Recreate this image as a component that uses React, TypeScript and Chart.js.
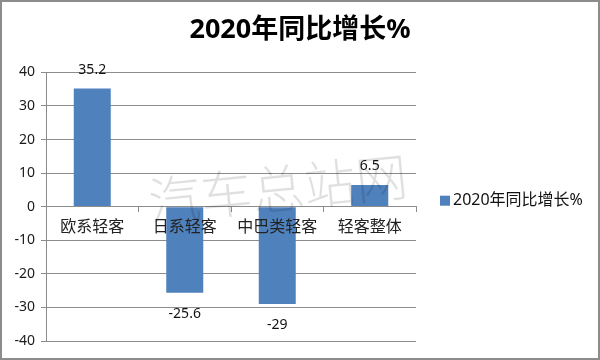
import React, { useEffect, useRef } from "react";
import { Chart, registerables } from "chart.js";

Chart.register(...registerables);

const chartTitle = "2020年同比增长%";
const seriesName = "2020年同比增长%";
const categories = ["欧系轻客", "日系轻客", "中巴类轻客", "轻客整体"];
const values = [35.2, -25.6, -29, 6.5];
const valueLabels = ["35.2", "-25.6", "-29", "6.5"];
const yMin = -40;
const yMax = 40;
const yStep = 10;
const watermarkText = "汽车总站网";

const BAR_COLOR = "#4f81bd";
const GRID_COLOR = "#8c8c8c";
const LATIN = '"Noto Sans", "Noto Sans CJK SC", sans-serif';
const CJK = '"Noto Sans CJK SC", "Noto Sans", sans-serif';

const extrasPlugin = {
  id: "extras",
  afterDatasetsDraw(chart: any) {
    const ctx = chart.ctx;
    const meta = chart.getDatasetMeta(0);
    ctx.save();
    ctx.font = `14px ${LATIN}`;
    ctx.fillStyle = "#111";
    ctx.textAlign = "center";
    ctx.textBaseline = "middle";
    meta.data.forEach((bar: any, i: number) => {
      const v = values[i];
      const y = v >= 0 ? bar.y - 19 : bar.y + 21;
      ctx.fillText(valueLabels[i], bar.x, y);
    });
    ctx.restore();
  },
  afterDraw(chart: any) {
    const ctx = chart.ctx;
    const area = chart.chartArea;
    // legend
    ctx.save();
    const lx = area.right + 24;
    const ly = (area.top + area.bottom) / 2 - 6;
    ctx.fillStyle = BAR_COLOR;
    ctx.fillRect(lx, ly - 5, 10, 10);
    ctx.fillStyle = "#111";
    ctx.font = `16px ${LATIN}`;
    ctx.textAlign = "left";
    ctx.textBaseline = "middle";
    ctx.fillText(chart.data.datasets[0].label, lx + 13, ly);
    ctx.restore();
    // watermark
    ctx.save();
    ctx.translate(area.left + 232, area.top + 116);
    ctx.rotate(-0.1);
    ctx.font = `200 52px ${CJK}`;
    ctx.fillStyle = "rgba(0,0,0,0.12)";
    ctx.textAlign = "center";
    ctx.textBaseline = "middle";
    ctx.fillText(watermarkText, 0, 0);
    ctx.restore();
  },
};

export default function App() {
  const ref = useRef<HTMLCanvasElement | null>(null);

  useEffect(() => {
    if (!ref.current) return;
    const chart = new Chart(ref.current, {
      type: "bar",
      data: {
        labels: categories,
        datasets: [
          {
            label: seriesName,
            data: values,
            backgroundColor: BAR_COLOR,
            categoryPercentage: 1,
            barPercentage: 0.4,
          },
        ],
      },
      options: {
        animation: false,
        responsive: false,
        layout: { padding: { left: 0, right: 0, top: 0, bottom: 17 } },
        plugins: {
          legend: { display: false },
          tooltip: { enabled: false },
          title: {
            display: true,
            text: chartTitle,
            color: "#000",
            font: { family: LATIN, size: 27, weight: "bold" },
            padding: { top: 12, bottom: 26 },
          },
        },
        scales: {
          x: {
            position: { y: 0 } as any,
            offset: true,
            grid: {
              display: true,
              drawOnChartArea: false,
              drawTicks: true,
              tickLength: 5,
              offset: true,
              color: GRID_COLOR,
              lineWidth: 1,
              z: 1,
            },
            border: { display: true, color: GRID_COLOR, width: 1, z: 1 },
            ticks: {
              color: "#222",
              font: { family: CJK, size: 16 },
              padding: 5,
              maxRotation: 0,
              autoSkip: false,
              z: 1,
            },
          },
          y: {
            min: yMin,
            max: yMax,
            afterFit: (scale: any) => {
              scale.width = 44;
            },
            grid: {
              color: GRID_COLOR,
              lineWidth: 1,
              tickLength: 5,
            },
            border: { display: true, color: GRID_COLOR, width: 1 },
            ticks: {
              stepSize: yStep,
              color: "#1a1a1a",
              font: { family: LATIN, size: 14 },
              padding: 6,
            },
          },
          spacer: {
            type: "linear",
            position: "right",
            min: yMin,
            max: yMax,
            afterFit: (scale: any) => {
              scale.width = 182;
            },
            grid: { display: false, drawOnChartArea: false },
            border: { display: false },
            ticks: { display: false },
          },
        },
      },
      plugins: [extrasPlugin],
    });
    return () => chart.destroy();
  }, []);

  return (
    <div
      style={{
        position: "absolute",
        left: 0,
        top: 0,
        width: 600,
        height: 360,
        boxSizing: "border-box",
        border: "2px solid #8c8c8c",
        background: "#fff",
      }}
    >
      <canvas ref={ref} width={596} height={356} style={{ display: "block", width: 596, height: 356 }} />
    </div>
  );
}
